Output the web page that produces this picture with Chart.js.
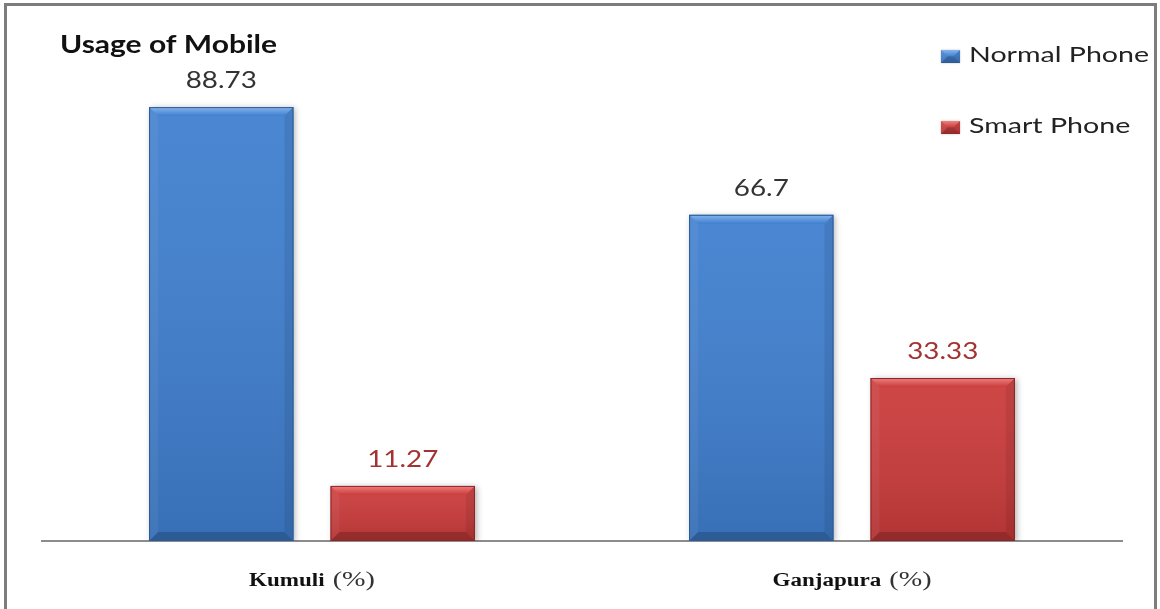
<!DOCTYPE html>
<html lang="en">
<head>
<meta charset="UTF-8">
<title>Usage of Mobile</title>
<script src="https://cdn.jsdelivr.net/npm/chart.js"></script>
<style>
  body { margin: 0; padding: 0; overflow: hidden; background: white; }
  #wrap { position: absolute; left: 0; top: 0; width: 1160px; height: 609px; }
  #frame { position: absolute; left: 4px; top: 3px; width: 1147px; height: 700px; border: 3px solid #7d7d7d; pointer-events: none; }
</style>
</head>
<body>
<div id="wrap"><canvas id="chart"></canvas></div>
<div id="frame"></div>
<script>
const chartTitle = 'Usage of Mobile';
const places = ['Kumuli', 'Ganjapura'];
const placeUnit = '(%)';
const seriesNames = ['Normal Phone', 'Smart Phone'];
const normalPhone = [88.73, 66.7];
const smartPhone = [11.27, 33.33];

// face, bevel highlight, outline and value label colour per series
const palette = [
  { face: '#3f7fcf', light: '#86b5ec', edge: '#2c5a96', label: '#333333' },
  { face: '#cb3b3b', light: '#ee8080', edge: '#8a2626', label: '#a33232' }
];

// text in the old picture is drawn a bit wide, so scale it horizontally
function wideText(ctx, text, x, y, sx, align) {
  ctx.save();
  ctx.translate(x, y);
  ctx.scale(sx, 1);
  ctx.textAlign = align || 'left';
  ctx.fillText(text, 0, 0);
  ctx.restore();
}

function poly(ctx, pts, fill) {
  ctx.beginPath();
  ctx.moveTo(pts[0][0], pts[0][1]);
  for (let i = 1; i < pts.length; i++) ctx.lineTo(pts[i][0], pts[i][1]);
  ctx.closePath();
  ctx.fillStyle = fill;
  ctx.fill();
}

// bevelled look of the old office-style bars
function bevel(ctx, l, r, t, b, c) {
  const d = Math.min(9, (b - t) / 2);
  const g = ctx.createLinearGradient(0, t, 0, b);
  g.addColorStop(0, 'rgba(255,255,255,0.06)');
  g.addColorStop(1, 'rgba(0,0,0,0.12)');
  ctx.fillStyle = g;
  ctx.fillRect(l, t, r - l, b - t);
  const tg = ctx.createLinearGradient(0, t, 0, t + d);
  tg.addColorStop(0, c.light);
  tg.addColorStop(1, c.face);
  poly(ctx, [[l, t], [r, t], [r - d, t + d], [l + d, t + d]], tg);
  poly(ctx, [[l, t], [l + d, t + d], [l + d, b - d], [l, b]], 'rgba(255,255,255,0.05)');
  poly(ctx, [[r, t], [r, b], [r - d, b - d], [r - d, t + d]], 'rgba(0,0,0,0.08)');
  poly(ctx, [[l, b], [r, b], [r - d, b - d], [l + d, b - d]], 'rgba(0,0,0,0.18)');
}

const decor = {
  id: 'decor',
  beforeDatasetsDraw(chart) {
    const ctx = chart.ctx;
    ctx.save();
    ctx.shadowColor = 'rgba(0,0,0,0.3)';
    ctx.shadowBlur = 6;
    ctx.shadowOffsetX = 2;
    ctx.shadowOffsetY = 1;
  },
  afterDatasetsDraw(chart) {
    const ctx = chart.ctx;
    ctx.restore();
    chart.data.datasets.forEach((ds, di) => {
      const c = palette[di];
      chart.getDatasetMeta(di).data.forEach((bar, i) => {
        const p = bar.getProps(['x', 'y', 'base', 'width'], true);
        const l = p.x - p.width / 2, r = p.x + p.width / 2;
        ctx.save();
        bevel(ctx, l, r, p.y, p.base, c);
        ctx.strokeStyle = c.edge;
        ctx.lineWidth = 1;
        ctx.strokeRect(l + 0.5, p.y + 0.5, p.width - 1, p.base - p.y - 1);
        ctx.fillStyle = c.label;
        ctx.font = '24px Lato';
        ctx.textBaseline = 'alphabetic';
        wideText(ctx, String(ds.data[i]), p.x, p.y - 19, 1.16, 'center');
        ctx.restore();
      });
    });
  },
  afterDraw(chart) {
    const ctx = chart.ctx;
    ctx.save();
    ctx.textBaseline = 'alphabetic';

    // title
    ctx.fillStyle = '#111';
    ctx.font = 'bold 25px Lato';
    wideText(ctx, chartTitle, 60, 53, 1.2);

    // legend, stacked at the top right
    const rows = [56, 127];
    chart.data.datasets.forEach((ds, di) => {
      const c = palette[di];
      const y = rows[di];
      ctx.save();
      ctx.shadowColor = 'rgba(0,0,0,0.25)';
      ctx.shadowBlur = 2;
      ctx.fillStyle = c.face;
      ctx.fillRect(941, y - 6, 19, 13);
      ctx.restore();
      bevel(ctx, 941, 960, y - 6, y + 7, c);
      ctx.fillStyle = '#222';
      ctx.font = '22px Lato';
      wideText(ctx, ds.label, 969, y + 6, 1.3);
    });

    // category labels: bold place name followed by the unit
    const xs = chart.scales.x;
    const y = 586, gap = 8, sx = 1.28;
    places.forEach((name, i) => {
      ctx.font = 'bold 18px "Liberation Serif"';
      const w1 = ctx.measureText(name).width * sx;
      ctx.font = '22px "Liberation Serif"';
      const w2 = ctx.measureText(placeUnit).width * sx;
      const start = xs.getPixelForValue(i) - (w1 + gap + w2) / 2;
      ctx.fillStyle = '#111';
      ctx.font = 'bold 18px "Liberation Serif"';
      wideText(ctx, name, start, y, sx);
      ctx.fillStyle = '#333';
      ctx.font = '22px "Liberation Serif"';
      wideText(ctx, placeUnit, start + w1 + gap, y, sx);
    });
    ctx.restore();
  }
};

new Chart(document.getElementById('chart').getContext('2d'), {
  type: 'bar',
  data: {
    labels: places,
    datasets: [
      { label: seriesNames[0], data: normalPhone, backgroundColor: palette[0].face, borderWidth: 0 },
      { label: seriesNames[1], data: smartPhone, backgroundColor: palette[1].face, borderWidth: 0 }
    ]
  },
  options: {
    responsive: true,
    maintainAspectRatio: false,
    animation: false,
    layout: { padding: { left: 42, right: 38, top: 52, bottom: 68 } },
    datasets: { bar: { categoryPercentage: 0.672, barPercentage: 0.796 } },
    plugins: { legend: { display: false }, tooltip: { enabled: false } },
    scales: {
      x: {
        grid: { display: false, drawTicks: false },
        ticks: { display: false },
        border: { color: '#8c8c8c', width: 2 }
      },
      y: { display: false, min: 0, max: 100 }
    }
  },
  plugins: [decor]
});
</script>
</body>
</html>
